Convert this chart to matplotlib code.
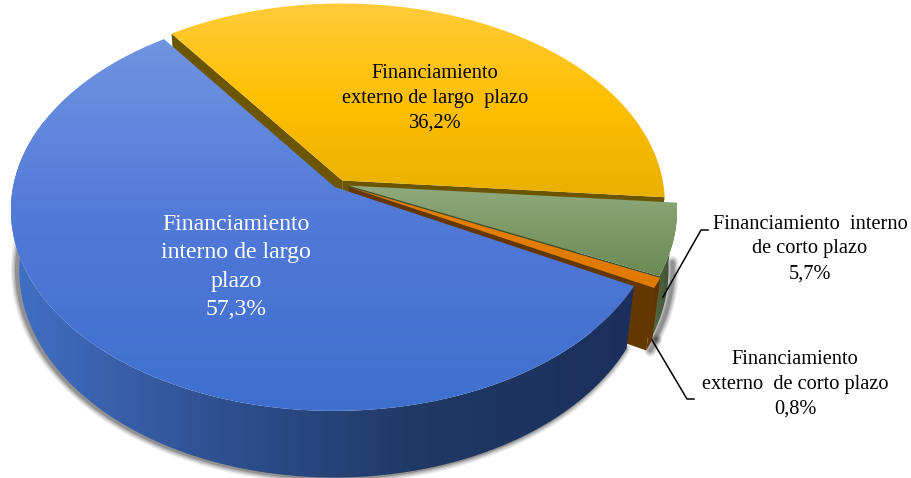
import numpy as np
import matplotlib
matplotlib.use("Agg")
import matplotlib.pyplot as plt
from matplotlib.colors import LinearSegmentedColormap
from matplotlib.patches import Polygon

# ---- Data ----
labels = ["Financiamiento\nexterno de largo  plazo\n36,2%",
          "Financiamiento  interno\nde corto plazo\n5,7%",
          "Financiamiento\nexterno  de corto plazo\n0,8%",
          "Financiamiento\ninterno de largo\nplazo\n57,3%"]
values = [36.2, 5.7, 0.8, 57.3]
start_angle = -35.5
explode = [0.02, 0.03, 0.035, 0.02]
radius = [0.985, 1.0, 1.0, 0.985]

# ---- Pie geometry (pixels) ----
W, H = 912, 478
CX, CY = 339, 184
R, K, A = 326, 200.8, 0.115
DEPTH = 59
NARROW = 0.025

top_colors = [["#ffcb3a", "#ffc000", "#e9b000"],
              ["#8fa97c", "#7d9a68", "#6a8a55"],
              ["#e87f00", "#df7a00"],
              ["#7094e0", "#5079d8", "#3e6fcf"]]
wall_colors = [["#6b5500", "#6b5500"],
               ["#5a6e48", "#34452a"],
               ["#6a3900", "#5c3200"],
               ["#4070c4", "#2f5090", "#1f3864", "#1b2f5c"]]
face_colors = ["#6b5500", "#3d4f30", "#643600", "#1f3864"]


def proj(theta, r=1.0, z=0.0, e=0.0, mid=0.0):
    t, m = np.radians(theta), np.radians(mid)
    x = r * np.sin(t) + e * np.sin(m)
    y = r * np.cos(t) + e * np.cos(m)
    f = 1 / (1 + A * y)
    return np.column_stack([CX + R * x * f * (1 - NARROW * z), CY - K * y * f + DEPTH * z * f])


def grad_fill(ax, pts, colors, horizontal=False):
    cmap = LinearSegmentedColormap.from_list("g", colors)
    x0, y0 = pts.min(axis=0)
    x1, y1 = pts.max(axis=0)
    g = np.linspace(0, 1, 256)
    g = g.reshape(1, -1) if horizontal else g.reshape(-1, 1)
    im = ax.imshow(g, cmap=cmap, extent=(x0, x1, y1, y0), aspect="auto",
                   interpolation="bilinear", zorder=3)
    clip = Polygon(pts, closed=True, transform=ax.transData)
    im.set_clip_path(clip)


def wall(a0, a1, r, e, mid):
    th = np.linspace(a0, a1, 100)
    return np.vstack([proj(th, r, e=e, mid=mid), proj(th[::-1], r, z=1, e=e, mid=mid)])


def cut_face(a, r, e, mid):
    p = np.array([a])
    return np.vstack([proj(p, r=0, e=e, mid=mid), proj(p, r, e=e, mid=mid),
                      proj(p, r, z=1, e=e, mid=mid), proj(p, r=0, z=1, e=e, mid=mid)])


fig = plt.figure(figsize=(W / 100, H / 100), dpi=100)
ax = fig.add_axes([0, 0, 1, 1])

# slice angles from the values
sweeps = np.array(values) / sum(values) * 360
starts = start_angle + np.concatenate([[0], np.cumsum(sweeps)[:-1]])
ends = starts + sweeps
mids = (starts + ends) / 2

# soft shadow under the outer rim, pushed outwards a little
for lw, al in zip([9, 7, 5, 3], [0.07, 0.10, 0.14, 0.20]):
    for idx, a0, a1, dx in [(1, starts[1], ends[1], 4), (2, starts[2], ends[2], 4),
                            (3, starts[3], 290, -2)]:
        pts = proj(np.linspace(a0, a1, 120), radius[idx], z=1, e=explode[idx], mid=mids[idx])
        ax.plot(pts[:, 0] + dx, pts[:, 1], color="black", lw=lw, alpha=al, zorder=1,
                solid_capstyle="round")

for i in range(len(values)):
    a0, a1, r, e, m = starts[i], ends[i], radius[i], explode[i], mids[i]
    # front faces that can be seen from above
    if i == 0:
        ax.add_patch(Polygon(cut_face(a0, r, e, m), fc=face_colors[i], ec="none", zorder=3))
    if i < 3:
        ax.add_patch(Polygon(cut_face(a1, r, e, m), fc=face_colors[i], ec="none", zorder=3))
    # outer wall
    if i == 3:
        grad_fill(ax, wall(a0, 290, r, e, m), wall_colors[i], horizontal=True)
    elif i in (1, 2):
        grad_fill(ax, wall(a0, a1, r, e, m), wall_colors[i], horizontal=True)
    # top
    th = np.linspace(a0, a1, 200)
    top = np.vstack([proj(np.array([a0]), r=0, e=e, mid=m), proj(th, r, e=e, mid=m)])
    grad_fill(ax, top, top_colors[i])

# ---- Text ----
serif = "Liberation Serif"
ax.text(435, 98, labels[0], ha="center", va="center", family=serif, fontsize=14.7,
        linespacing=1.4, color="black", zorder=5)
ax.text(810, 249, labels[1], ha="center", va="center", family=serif, fontsize=14.7,
        linespacing=1.4, color="black", zorder=5)
ax.text(795, 384, labels[2], ha="center", va="center", family=serif, fontsize=14.7,
        linespacing=1.4, color="black", zorder=5)
ax.text(236, 267, labels[3], ha="center", va="center", family=serif, fontsize=17.1,
        linespacing=1.47, color="white", zorder=5)

# leader lines
ax.plot([708, 701, 663], [230, 230, 297], color="black", lw=1.1, zorder=6)
ax.plot([652, 687, 694], [340, 399, 399], color="black", lw=1.1, zorder=6)

ax.set_xlim(0, W)
ax.set_ylim(H, 0)
ax.axis("off")
fig.savefig("out.png", dpi=100, facecolor="white")
